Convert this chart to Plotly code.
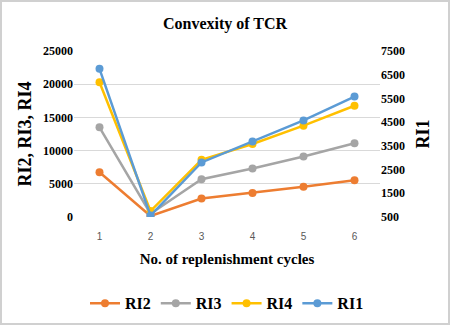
import plotly.graph_objects as go

cycles = [1, 2, 3, 4, 5, 6]
ri2 = [6750, 150, 2780, 3620, 4550, 5550]
ri3 = [13500, 500, 5680, 7300, 9120, 11100]
ri4 = [20300, 900, 8620, 11000, 13750, 16750]
ri1 = [6750, 560, 2800, 3680, 4570, 5580]

left_ticks = [0, 5000, 10000, 15000, 20000, 25000]
right_ticks = [500, 1500, 2500, 3500, 4500, 5500, 6500, 7500]

colors = {"RI2": "#ED7D31", "RI3": "#A5A5A5", "RI4": "#FFC000", "RI1": "#5B9BD5"}
serif = "Liberation Serif, Times New Roman, serif"

fig = go.Figure()
for name, vals, ax in [("RI2", ri2, "y"), ("RI3", ri3, "y"), ("RI4", ri4, "y"), ("RI1", ri1, "y2")]:
    fig.add_trace(go.Scatter(
        x=cycles, y=vals, name="<b>" + name + "</b>", yaxis=ax, mode="lines+markers",
        line=dict(color=colors[name], width=2.5),
        marker=dict(color=colors[name], size=8),
    ))

fig.update_layout(
    width=450, height=325,
    margin=dict(l=74, r=70, t=51, b=108, autoexpand=False),
    paper_bgcolor="white", plot_bgcolor="white",
    title=dict(text="<b>Convexity of TCR</b>", x=0.5, xanchor="center", y=1 - 23/325, yanchor="middle",
               font=dict(family=serif, size=16, color="#000000")),
    xaxis=dict(tickmode="array", tickvals=cycles, ticktext=[str(c) for c in cycles], automargin=False,
               range=[0.5, 6.5], showgrid=False, zeroline=False, showline=False, ticks="",
               ticklabelstandoff=12,
               tickfont=dict(family="Liberation Sans, Arial", size=10, color="#595959"),
               title=dict(text="<b>No. of replenishment cycles</b>", standoff=12,
                          font=dict(family=serif, size=15, color="#000000"))),
    yaxis=dict(range=[0, 25000], tickmode="array", tickvals=left_ticks, automargin=False,
               ticktext=["<b>%d</b>" % v for v in left_ticks],
               showgrid=True, gridcolor="#D9D9D9", gridwidth=1,
               zeroline=False, showline=False, ticks="",
               tickfont=dict(family=serif, size=12, color="#000000"),
               title=dict(text="<b>RI2, RI3, RI4</b>", standoff=6,
                          font=dict(family=serif, size=18, color="#000000"))),
    yaxis2=dict(range=[500, 7500], tickmode="array", tickvals=right_ticks, automargin=False,
                ticktext=["<b>%d</b>" % v for v in right_ticks],
                overlaying="y", side="right",
                showgrid=False, zeroline=False, showline=False, ticks="",
                tickfont=dict(family=serif, size=12, color="#000000"),
                title=dict(text="<b>RI1</b>", standoff=12,
                           font=dict(family=serif, size=18, color="#000000"))),
    legend=dict(orientation="h", x=0.5, xanchor="center", y=-0.52, yanchor="middle",
                font=dict(family=serif, size=16, color="#000000"), itemwidth=30,
                traceorder="normal"),
    shapes=[dict(type="rect", xref="paper", yref="paper",
                 x0=(1 - 74) / 306, x1=(449 - 74) / 306, y0=(217 - 324) / 166, y1=(217 - 1) / 166,
                 line=dict(color="#D0D0D0", width=2), fillcolor="rgba(0,0,0,0)", layer="below")],
)

fig.write_html("out.html", config={"displayModeBar": False},
               post_script="document.body.style.margin='0';")
